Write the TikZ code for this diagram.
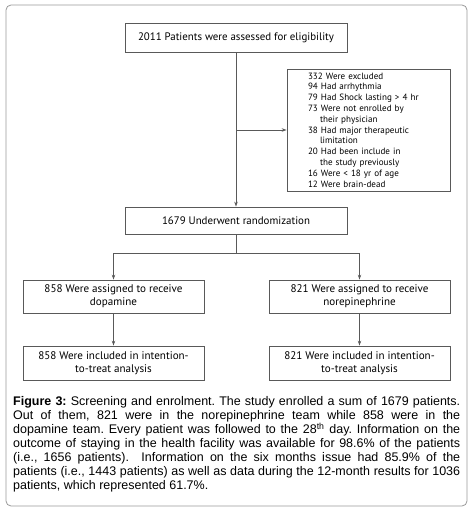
\documentclass[tikz,border=0pt]{standalone}
\usepackage{fontspec}
\setmainfont{Liberation Sans}
\newfontfamily\flow{PT Sans}
\usetikzlibrary{arrows.meta}
\newlength\mylen
\newlength\mylenb
% #1 macro, #2 font switch, #3 text, #4 target width in bp, #5 fallback size
\newcommand\fitsize[5]{%
  \settowidth\mylen{#2\fontsize{10}{12}\selectfont #3}%
  \pgfmathsetmacro\fittmp{\mylen<1 ? #5 : 10*#4*1.00375/max(\mylen,1)}%
  \global\let#1\fittmp}
\newcommand\capfit{%
  \settowidth\mylen{\fontsize{10}{12}\selectfont\textbf{Figure 3:} Screening and enrolment. The study enrolled a sum of 1679 patients.}%
  \settowidth\mylenb{\fontsize{10}{12}\selectfont patients (i.e., 1443 patients) as well as data during the 12-month results for 1036}%
  \pgfmathsetmacro\fittmp{\mylen<1 ? 12 : min(12.6,10*445*1.00375/max(max(\mylen,\mylenb),1))}%
  \global\let\capsize\fittmp}
\begin{document}
\frenchspacing
\begin{tikzpicture}[x=1bp,y=-1bp,
  box/.style={draw=black!65, line width=0.8bp, inner sep=2bp, align=center,
    font={\fitsize{\bxsize}{\flow}{858 Were assigned to receive}{138}{11.3}\flow\fontsize{\bxsize}{13.3bp}\selectfont}},
  topfont/.style={font={\fitsize{\topsize}{\flow}{2011 Patients were assessed for eligibility}{196}{11.6}\flow\fontsize{\topsize}{13.3bp}\selectfont}},
  conn/.style={draw=black!65, line width=0.7bp},
  arr/.style={conn, -{Stealth[length=5bp,width=3.5bp]}}]
\useasboundingbox (0,0) rectangle (474,511);
\draw[black!40, line width=0.8bp, rounded corners=5bp] (6,5) rectangle (467,506);
\node[box, topfont, minimum width=222bp, minimum height=29bp] (top) at (236,37.5) {2011 Patients were assessed for eligibility};
\node[box, minimum width=163bp, minimum height=122bp, align=left, text width=163bp, inner xsep=0bp,
  font={\fitsize{\exsize}{\flow}{79 Had Shock lasting > 4 hr}{107}{10.3}\flow\fontsize{\exsize}{10.8bp}\selectfont}] (excl) at (368.5,130) {%
\hspace*{21bp}332 Were excluded\\
\hspace*{21bp}94 Had arrhythmia\\
\hspace*{21bp}79 Had Shock lasting > 4 hr\\
\hspace*{21bp}73 Were not enrolled by\\
\hspace*{33bp}their physician\\
\hspace*{21bp}38 Had major therapeutic\\
\hspace*{33bp}limitation\\
\hspace*{21bp}20 Had been include in\\
\hspace*{33bp}the study previously\\
\hspace*{21bp}16 Were < 18 yr of age\\
\hspace*{21bp}12 Were brain-dead};
\node[box, topfont, minimum width=222bp, minimum height=27bp] (rand) at (236,220.5) {1679 Underwent randomization};
\node[box, minimum width=181bp, minimum height=33bp] (left) at (113.5,296.5) {858 Were assigned to receive\\dopamine};
\node[box, minimum width=181bp, minimum height=33bp] (right) at (359.5,296.5) {821 Were assigned to receive\\norepinephrine};
\node[box, minimum width=181bp, minimum height=34bp] (bl) at (113.5,363) {858 Were included in intention-\\to-treat analysis};
\node[box, minimum width=181bp, minimum height=34bp] (br) at (359.5,363) {821 Were included in intention-\\to-treat analysis};
\coordinate (branch) at (top.south |- excl.west);
\coordinate (split) at (236,253);
\draw[arr] (top) -- (rand);
\draw[arr] (branch) -- (excl.west);
\draw[conn] (rand) -- (split);
\draw[arr] (split) -| (left);
\draw[arr] (split) -| (right);
\draw[arr] (left) -- (bl);
\draw[arr] (right) -- (br);
\node[anchor=north west, inner sep=0pt, text width=447bp, align=justify, font={\capfit\fontsize{\capsize}{14.1bp}\selectfont}] (cap) at (13,396) {%
\textbf{Figure 3:} Screening and enrolment. The study enrolled a sum of 1679 patients.\linebreak
Out of them, 821 were in the norepinephrine team while 858 were in the\linebreak
dopamine team. Every patient was followed to the 28\textsuperscript{th} day. Information on the\linebreak
outcome of staying in the health facility was available for 98.6\% of the patients\linebreak
(i.e., 1656 patients).\ \ Information on the six months issue had 85.9\% of the\linebreak
patients (i.e., 1443 patients) as well as data during the 12-month results for 1036\linebreak
patients, which represented 61.7\%.};
\end{tikzpicture}
\end{document}
